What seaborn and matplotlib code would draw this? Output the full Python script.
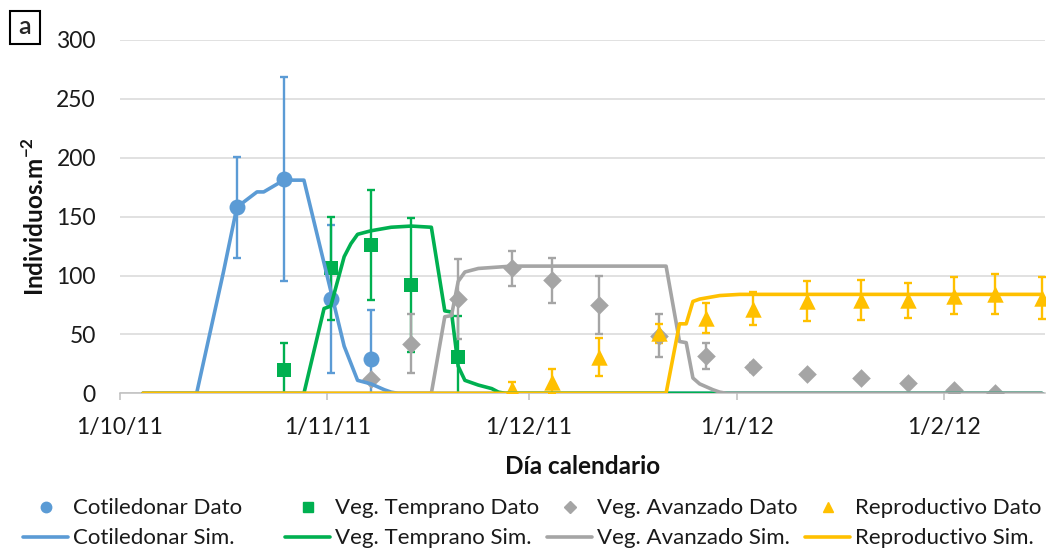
import pandas as pd
import seaborn as sns
import matplotlib.pyplot as plt
import matplotlib.dates as mdates
from matplotlib.lines import Line2D
from matplotlib.patches import Rectangle
from matplotlib.ticker import FuncFormatter, MultipleLocator

# datos de campo (fecha de muestreo, media, error)
cot_fechas = ["2011-10-18", "2011-10-25", "2011-11-01", "2011-11-07"]
cot_dato = [158, 182, 80, 29]
cot_err = [43, 87, 63, 42]

vt_fechas = ["2011-10-25", "2011-11-01", "2011-11-07", "2011-11-13", "2011-11-20"]
vt_dato = [20, 106, 126, 92, 31]
vt_err = [23, 44, 47, 57, 35]

va_fechas = ["2011-11-07", "2011-11-13", "2011-11-20", "2011-11-28", "2011-12-04",
             "2011-12-11", "2011-12-20", "2011-12-27", "2012-01-03", "2012-01-11",
             "2012-01-19", "2012-01-26", "2012-02-02", "2012-02-08"]
va_dato = [12, 42, 80, 106, 96, 75, 49, 32, 22, 16, 13, 9, 3, 0]
va_err = [0, 25, 34, 15, 19, 25, 18, 11, 4, 0, 0, 0, 0, 0]

rep_fechas = ["2011-11-28", "2011-12-04", "2011-12-11", "2011-12-20", "2011-12-27",
              "2012-01-03", "2012-01-11", "2012-01-19", "2012-01-26", "2012-02-02",
              "2012-02-08", "2012-02-15"]
rep_dato = [4, 10, 31, 51, 64, 72, 78, 79, 79, 83, 84, 81]
rep_err = [6, 11, 16, 8, 13, 14, 17, 17, 15, 16, 17, 18]

# simulaciones (dias desde 1/10/11)
inicio = pd.Timestamp("2011-10-01")
cot_sim_dia = [3, 11, 15, 17, 20, 21, 24, 27, 33, 35, 37, 39, 40, 41, 137]
cot_sim = [0, 0, 103, 158, 171, 171, 181, 181, 40, 11, 8, 3, 1, 0, 0]
vt_sim_dia = [3, 27, 30, 31, 33, 34, 35, 37, 40, 43, 46, 48, 49, 50, 51, 53, 55, 56, 57, 137]
vt_sim = [0, 0, 72, 74, 116, 127, 135, 138, 141, 142, 141, 70, 69, 23, 11, 7, 4, 1, 0, 0]
va_sim_dia = [3, 46, 48, 49, 50, 51, 53, 58, 81, 83, 84, 85, 86, 88, 89, 90, 137]
va_sim = [0, 0, 65, 66, 95, 103, 106, 108, 108, 44, 43, 13, 8, 3, 1, 0, 0]
rep_sim_dia = [3, 81, 83, 84, 85, 86, 87, 89, 92, 137]
rep_sim = [0, 0, 59, 59, 78, 80, 81, 83, 84, 84]

AZUL, VERDE, GRIS, AMARILLO = "#5B9BD5", "#00B050", "#A5A5A5", "#FFC000"

sns.set_theme(style="white")
plt.rcParams['font.family'] = ['Lato', 'DejaVu Sans']
plt.rcParams['mathtext.fontset'] = 'custom'
plt.rcParams['mathtext.rm'] = 'Lato'
plt.rcParams['mathtext.bf'] = 'Lato:bold'

# Excel centra cada punto en su dia
medio_dia = pd.Timedelta(hours=12)


def a_fecha(fechas):
    return pd.to_datetime(fechas) + medio_dia


def a_fecha_dia(dias):
    return inicio + pd.to_timedelta(dias, unit="D") + medio_dia


fig = plt.figure(figsize=(10.51, 5.48), dpi=100)
ax = fig.add_axes([119.5 / 1051, 1 - 393.3 / 548, 925.5 / 1051, 353.3 / 548])

series_dato = [
    (cot_fechas, cot_dato, cot_err, AZUL, "o", 132),
    (vt_fechas, vt_dato, vt_err, VERDE, "s", 110),
    (va_fechas, va_dato, va_err, GRIS, "D", 90),
    (rep_fechas, rep_dato, rep_err, AMARILLO, "^", 140),
]
for fechas, dato, err, color, marca, tam in series_dato:
    x = a_fecha(fechas)
    ax.errorbar(x, dato, yerr=err, fmt="none", ecolor=color, elinewidth=1.7,
                capsize=3.2, capthick=1.7, zorder=3)
    sns.scatterplot(x=x, y=dato, ax=ax, color=color, marker=marca, s=tam,
                    linewidth=0, zorder=4)

series_sim = [
    (cot_sim_dia, cot_sim, AZUL),
    (vt_sim_dia, vt_sim, VERDE),
    (va_sim_dia, va_sim, GRIS),
    (rep_sim_dia, rep_sim, AMARILLO),
]
for dias, sim, color in series_sim:
    sns.lineplot(x=a_fecha_dia(dias), y=sim, ax=ax, color=color, linewidth=2.6,
                 zorder=5)

ax.set_xlim(inicio, inicio + pd.Timedelta(days=138))
ax.set_ylim(0, 300)
ax.yaxis.set_major_locator(MultipleLocator(50))
ax.xaxis.set_major_locator(mdates.MonthLocator())


def fmt_fecha(v, pos):
    d = mdates.num2date(v)
    return f"{d.day}/{d.month}/{d.strftime('%y')}"


ax.xaxis.set_major_formatter(FuncFormatter(fmt_fecha))
ax.grid(axis="y", color="#d9d9d9", linewidth=1.1)
ax.grid(axis="x", visible=False)
for lado in ["left", "top", "right"]:
    ax.spines[lado].set_visible(False)
ax.spines["bottom"].set_color("#bfbfbf")
ax.spines["bottom"].set_linewidth(1.1)
ax.tick_params(axis="y", length=0, pad=17, labelsize=16.5, labelcolor="#1a1a1a")
ax.tick_params(axis="x", length=5, width=1.1, color="#bfbfbf", direction="out",
               pad=12, labelsize=16.5, labelcolor="#1a1a1a", bottom=True)

ax.set_ylabel(r"Individuos.m$^{\mathbf{-2}}$", fontsize=17.5, fontweight="bold",
              va="center", color="#111111")
ax.yaxis.set_label_coords((35 - 119.5) / 925.5, 0.5)
ax.set_xlabel("Día calendario", fontsize=17.5, fontweight="bold", va="center",
              color="#111111")
ax.xaxis.set_label_coords(0.5, (393.3 - 466) / 353.3)

# etiqueta del panel
fig.patches.append(Rectangle((9.5 / 1051, 1 - 44 / 548), 30 / 1051, 33 / 548,
                             transform=fig.transFigure, fill=False,
                             edgecolor="black", linewidth=1.5))
fig.text(24.5 / 1051, 1 - 27 / 548, "a", ha="center", va="center", fontsize=18,
         fontweight="semibold")

# leyenda: cuatro columnas de ancho fijo
nombres = ["Cotiledonar", "Veg. Temprano", "Veg. Avanzado", "Reproductivo"]
colores = [AZUL, VERDE, GRIS, AMARILLO]
marcas = [("o", 7.5), ("s", 7), ("D", 6.5), ("^", 7.5)]
x_col = [23, 285, 547, 805]
for nombre, color, (marca, ms), x0 in zip(nombres, colores, marcas, x_col):
    h_dato = Line2D([], [], color=color, marker=marca, markersize=ms, linestyle="none")
    h_sim = Line2D([], [], color=color, linewidth=2.6)
    leg = fig.legend([h_dato, h_sim], [nombre + " Dato", nombre + " Sim."],
                     loc="upper left", bbox_to_anchor=(x0 / 1051, 1 - 498.5 / 548),
                     frameon=False, fontsize=16, handlelength=2.03,
                     handletextpad=0.2, borderpad=0, borderaxespad=0,
                     labelspacing=0.45)
    for t in leg.get_texts():
        t.set_color("#1a1a1a")

fig.savefig("out.png", dpi=100)
